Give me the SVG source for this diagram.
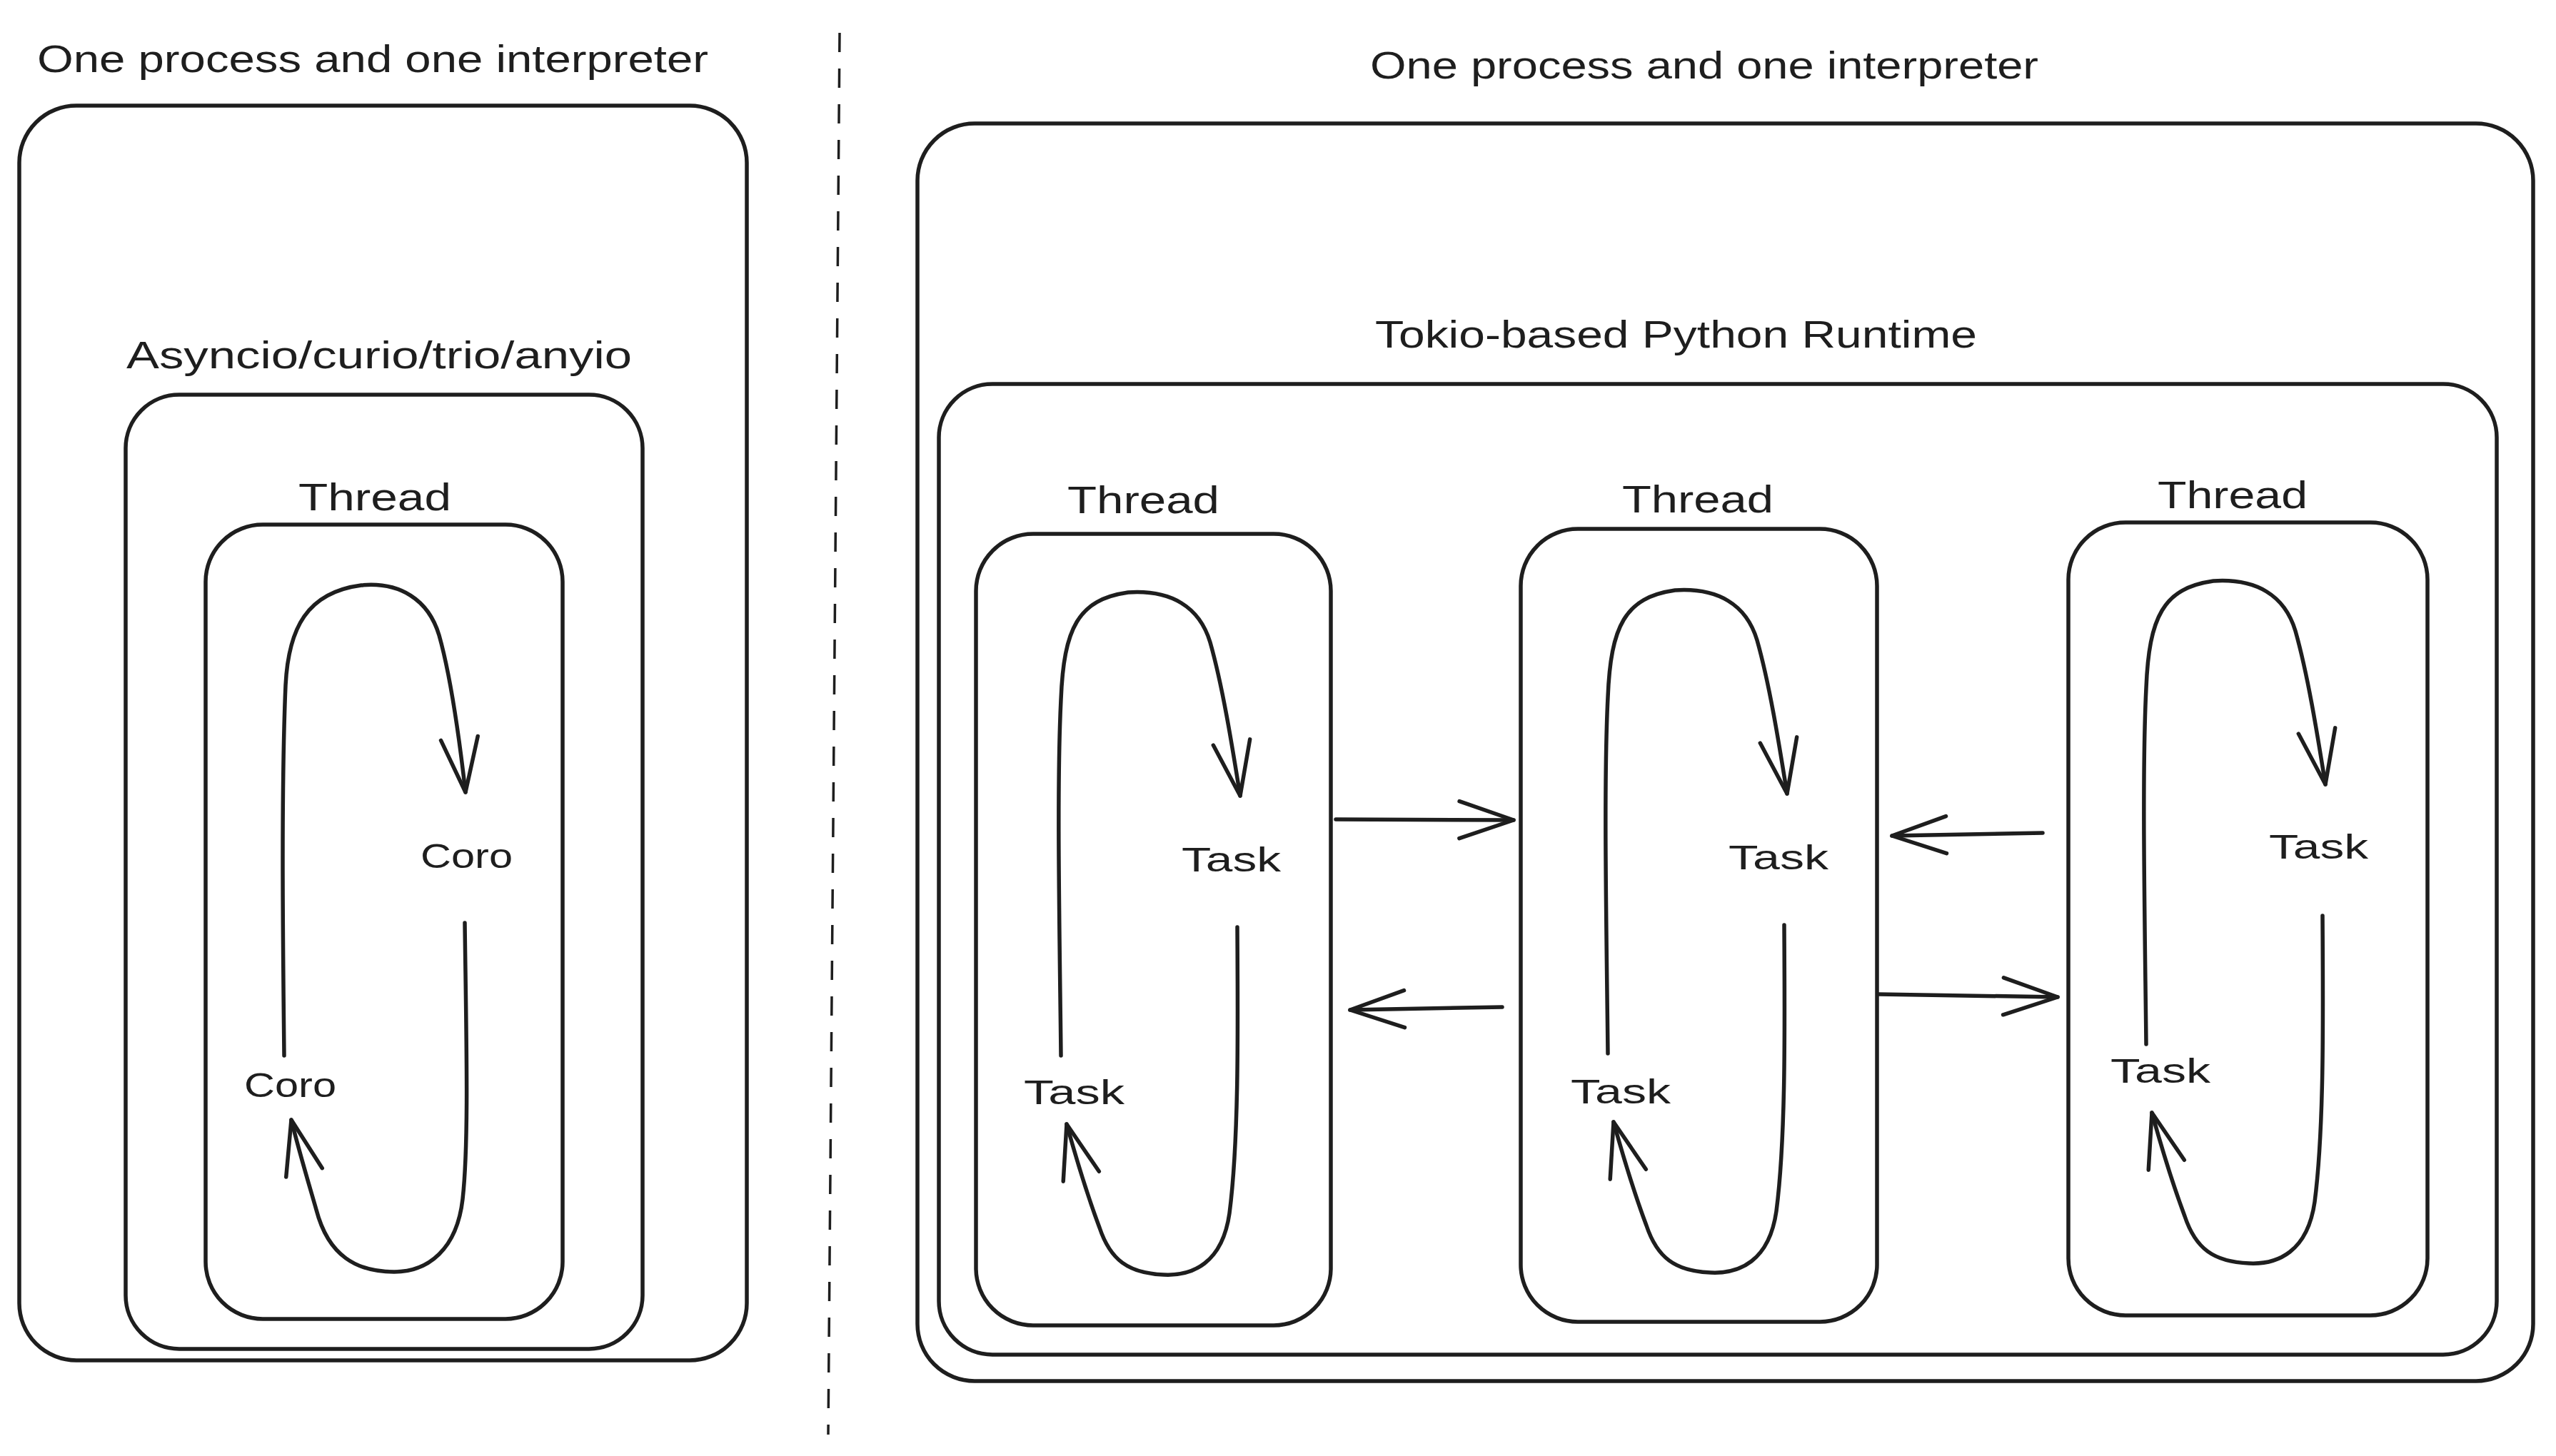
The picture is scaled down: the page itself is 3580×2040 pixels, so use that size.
<svg xmlns="http://www.w3.org/2000/svg" width="3580" height="2040" viewBox="0 0 3580 2040">
<style>
.box{fill:none;stroke:#1e1e1e;stroke-width:5.5;stroke-linecap:round;stroke-linejoin:round}
.ln{fill:none;stroke:#1e1e1e;stroke-width:5.5;stroke-linecap:round;stroke-linejoin:round}
.lbl{font-family:"Liberation Sans","DejaVu Sans",sans-serif;fill:#1e1e1e}
.ttl{font-size:54px}
.sm{font-size:48px}
</style>
<defs>
<marker id="arr" markerUnits="userSpaceOnUse" markerWidth="100" markerHeight="80" viewBox="0 0 100 80" refX="90" refY="40" orient="auto" overflow="visible">
<path d="M14,14 L90,40 L14,66" fill="none" stroke="#1e1e1e" stroke-width="5.5" stroke-linecap="round" stroke-linejoin="round"/>
</marker>
</defs>
<rect width="3580" height="2040" fill="#ffffff"/>

<line x1="1176" y1="46" x2="1160" y2="2010" stroke="#1e1e1e" stroke-width="3.5" stroke-dasharray="27 23"/>

<g id="left-process">
<rect class="box" x="27" y="148" width="1019" height="1758" rx="80"/>
<text class="lbl ttl" x="52" y="101" textLength="940" lengthAdjust="spacingAndGlyphs">One process and one interpreter</text>
</g>
<g id="left-asyncio">
<rect class="box" x="176" y="553" width="724" height="1337" rx="75"/>
<text class="lbl ttl" x="177" y="516" textLength="708" lengthAdjust="spacingAndGlyphs">Asyncio/curio/trio/anyio</text>
</g>
<g id="left-thread">
<rect class="box" x="288" y="735" width="500" height="1113" rx="80"/>
<text class="lbl ttl" x="418" y="715" textLength="214" lengthAdjust="spacingAndGlyphs">Thread</text>
</g>
<g id="coro-right"><text class="lbl sm" x="589" y="1216" textLength="129" lengthAdjust="spacingAndGlyphs">Coro</text></g>
<g id="coro-left"><text class="lbl sm" x="342" y="1537" textLength="129" lengthAdjust="spacingAndGlyphs">Coro</text></g>

<g id="right-process">
<rect class="box" x="1285" y="173" width="2263" height="1762" rx="80"/>
<text class="lbl ttl" x="1919" y="110" textLength="936" lengthAdjust="spacingAndGlyphs">One process and one interpreter</text>
</g>
<g id="tokio-runtime">
<rect class="box" x="1315" y="538" width="2182" height="1360" rx="75"/>
<text class="lbl ttl" x="1926" y="487" textLength="843" lengthAdjust="spacingAndGlyphs">Tokio-based Python Runtime</text>
</g>
<g id="thread-1">
<rect class="box" x="1367" y="748" width="497" height="1109" rx="80"/>
<text class="lbl ttl" x="1495" y="719" textLength="213" lengthAdjust="spacingAndGlyphs">Thread</text>
</g>
<g id="thread-2">
<rect class="box" x="2130" y="741" width="499" height="1111" rx="80"/>
<text class="lbl ttl" x="2272" y="718" textLength="212" lengthAdjust="spacingAndGlyphs">Thread</text>
</g>
<g id="thread-3">
<rect class="box" x="2897" y="732" width="503" height="1111" rx="80"/>
<text class="lbl ttl" x="3022" y="712" textLength="210" lengthAdjust="spacingAndGlyphs">Thread</text>
</g>
<g id="task-1a"><text class="lbl sm" x="1655" y="1221" textLength="139" lengthAdjust="spacingAndGlyphs">Task</text></g>
<g id="task-1b"><text class="lbl sm" x="1434" y="1547" textLength="141" lengthAdjust="spacingAndGlyphs">Task</text></g>
<g id="task-2a"><text class="lbl sm" x="2421" y="1218" textLength="140" lengthAdjust="spacingAndGlyphs">Task</text></g>
<g id="task-2b"><text class="lbl sm" x="2200" y="1546" textLength="140" lengthAdjust="spacingAndGlyphs">Task</text></g>
<g id="task-3a"><text class="lbl sm" x="3178" y="1203" textLength="139" lengthAdjust="spacingAndGlyphs">Task</text></g>
<g id="task-3b"><text class="lbl sm" x="2956" y="1517" textLength="140" lengthAdjust="spacingAndGlyphs">Task</text></g>

<g id="connectors">
<path class="ln" marker-end="url(#arr)" d="M398,1479 C396,1300 394,1100 400,960 C404,880 430,830 506,820 C560,815 600,840 615,890 C632,950 644,1040 652,1110"/>
<path class="ln" marker-end="url(#arr)" d="M651,1293 C653,1450 657,1600 648,1680 C640,1750 600,1782 552,1782 C500,1782 460,1760 443,1695 C430,1650 418,1610 408,1569"/>

<g id="loop-1">
<path class="ln" marker-end="url(#arr)" d="M1486,1479 C1484,1300 1480,1100 1486,980 C1490,880 1510,840 1580,830 C1640,826 1680,850 1695,900 C1712,960 1725,1040 1737,1115"/>
<path class="ln" marker-end="url(#arr)" d="M1733,1299 C1734,1450 1735,1600 1722,1700 C1712,1770 1670,1788 1630,1786 C1580,1784 1555,1765 1540,1720 C1525,1680 1512,1640 1494,1575"/>
</g>
<g id="loop-2" transform="translate(766,-3)">
<path class="ln" marker-end="url(#arr)" d="M1486,1479 C1484,1300 1480,1100 1486,980 C1490,880 1510,840 1580,830 C1640,826 1680,850 1695,900 C1712,960 1725,1040 1737,1115"/>
<path class="ln" marker-end="url(#arr)" d="M1733,1299 C1734,1450 1735,1600 1722,1700 C1712,1770 1670,1788 1630,1786 C1580,1784 1555,1765 1540,1720 C1525,1680 1512,1640 1494,1575"/>
</g>
<g id="loop-3" transform="translate(1520,-16)">
<path class="ln" marker-end="url(#arr)" d="M1486,1479 C1484,1300 1480,1100 1486,980 C1490,880 1510,840 1580,830 C1640,826 1680,850 1695,900 C1712,960 1725,1040 1737,1115"/>
<path class="ln" marker-end="url(#arr)" d="M1733,1299 C1734,1450 1735,1600 1722,1700 C1712,1770 1670,1788 1630,1786 C1580,1784 1555,1765 1540,1720 C1525,1680 1512,1640 1494,1575"/>
</g>

<path class="ln" marker-end="url(#arr)" d="M1871,1148 L2120,1149"/>
<path class="ln" marker-end="url(#arr)" d="M2104,1411 L1891,1415"/>
<path class="ln" marker-end="url(#arr)" d="M2861,1167 L2650,1171"/>
<path class="ln" marker-end="url(#arr)" d="M2631,1393 L2882,1397"/>
</g>
</svg>
